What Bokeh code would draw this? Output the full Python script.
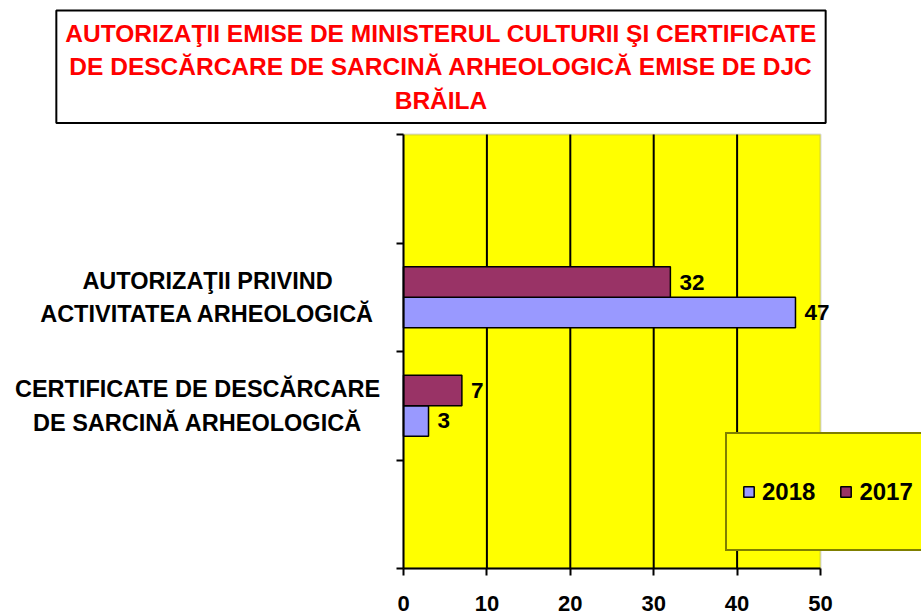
from bokeh.plotting import figure
from bokeh.models import (Range1d, FixedTicker, Label, LabelSet, ColumnDataSource,
                          Legend, LegendItem, LinearAxis, BoxAnnotation)
from bokeh.core.properties import value
from bokeh.embed import file_html
from bokeh.resources import INLINE

title_text = ("AUTORIZAŢII EMISE DE MINISTERUL CULTURII ŞI CERTIFICATE\n"
              "DE DESCĂRCARE DE SARCINĂ ARHEOLOGICĂ EMISE DE DJC\n"
              "BRĂILA")
categories = ["AUTORIZAŢII PRIVIND\nACTIVITATEA ARHEOLOGICĂ",
              "CERTIFICATE DE DESCĂRCARE\nDE SARCINĂ ARHEOLOGICĂ"]
series_names = ["2018", "2017"]
values_2018 = [47, 3]
values_2017 = [32, 7]
x_ticks = [0, 10, 20, 30, 40, 50]

FONT = "Liberation Sans"
N_SLOTS = 4  # one empty slot above, one below
centers = [N_SLOTS - 1.5 - i for i in range(len(categories))]
BAR_H = 0.28
XMAX = x_ticks[-1]

# plot-area geometry in canvas px
W, H = 921, 616
FL, FR, FT, FB = 403, 820, 134, 568
sx = (FR - FL) / XMAX
sy = (FB - FT) / N_SLOTS

def px_x(px):
    return (px - FL) / sx

def px_y(py):
    return (FB - py) / sy

p = figure(width=W, height=H,
           x_range=Range1d(px_x(0), px_x(W)), y_range=Range1d(px_y(H), px_y(0)),
           output_backend="svg", toolbar_location=None, min_border=0,
           x_axis_type=None, y_axis_type=None)
p.background_fill_color = "white"
p.border_fill_color = "white"
p.outline_line_color = None
p.grid.visible = False

# plot area background + border (gray on top/right)
p.add_layout(BoxAnnotation(left=0, right=XMAX, bottom=0, top=N_SLOTS,
                           fill_color="#FFFF00", fill_alpha=1,
                           line_color="#808080", line_width=2, level="underlay"))

# vertical grid lines
grid_x = x_ticks[1:-1]
p.segment(x0=grid_x, y0=[0] * len(grid_x), x1=grid_x, y1=[N_SLOTS] * len(grid_x),
          line_color="black", line_width=2)

src17 = ColumnDataSource(dict(y=[c + BAR_H / 2 for c in centers], v=values_2017,
                              t=[str(v) for v in values_2017]))
src18 = ColumnDataSource(dict(y=[c - BAR_H / 2 for c in centers], v=values_2018,
                              t=[str(v) for v in values_2018]))

r18 = p.hbar(y="y", right="v", left=0, height=BAR_H, source=src18,
             fill_color="#9999FF", line_color="black", line_width=1.5)
r17 = p.hbar(y="y", right="v", left=0, height=BAR_H, source=src17,
             fill_color="#993366", line_color="black", line_width=1.5)

for s in (src17, src18):
    p.add_layout(LabelSet(x="v", y="y", text="t", source=s, x_offset=9,
                          text_baseline="middle", text_align="left",
                          text_font=value(FONT), text_font_style="bold",
                          text_font_size="22.5px", text_color="black"))

# axes fixed at the plot-area edges
xaxis = LinearAxis(fixed_location=0, bounds=(0, XMAX),
                   ticker=FixedTicker(ticks=x_ticks))
xaxis.axis_line_width = 2
xaxis.major_tick_line_width = 2
xaxis.major_tick_out = 7
xaxis.major_tick_in = 0
xaxis.minor_tick_line_color = None
xaxis.major_label_standoff = 20
xaxis.major_label_text_font = FONT
xaxis.major_label_text_font_style = "bold"
xaxis.major_label_text_font_size = "22px"
xaxis.major_label_text_color = "black"
p.add_layout(xaxis, "below")

yaxis = LinearAxis(fixed_location=0, bounds=(0, N_SLOTS),
                   ticker=FixedTicker(ticks=list(range(N_SLOTS + 1))))
yaxis.axis_line_width = 2
yaxis.major_tick_line_width = 2
yaxis.major_tick_out = 7
yaxis.major_tick_in = 0
yaxis.minor_tick_line_color = None
yaxis.major_label_overrides = {i: "" for i in range(N_SLOTS + 1)}
p.add_layout(yaxis, "left")

# category labels, one centred line at a time (wrapped-text centres differ)
label_dx = [-196, -206]
line1 = [c.split("\n")[0] for c in categories]
line2 = [c.split("\n")[1] for c in categories]
for lines, off in ((line1, 16.5), (line2, -17)):
    src = ColumnDataSource(dict(x=[0] * len(lines), y=centers, t=lines, dx=label_dx))
    p.add_layout(LabelSet(x="x", y="y", text="t", source=src, x_offset="dx",
                          y_offset=off, text_align="center", text_baseline="middle",
                          text_font=value(FONT), text_font_style="bold",
                          text_font_size="23.5px", text_color="black"))

# title box
p.add_layout(Label(x=px_x(440.5), y=px_y(10), text=title_text,
                   anchor="top_center", text_align="center",
                   text_font=FONT, text_font_style="bold", text_font_size="24.5px",
                   text_line_height=1.25, text_color="#FF0000",
                   background_fill_color="white", border_line_color="black",
                   border_line_width=2, padding=9))

legend = Legend(items=[LegendItem(label=series_names[0], renderers=[r18]),
                       LegendItem(label=series_names[1], renderers=[r17])],
                orientation="horizontal", location=(725, H - 551),
                background_fill_color="#FFFF00", background_fill_alpha=1,
                border_line_color="black", border_line_width=2,
                label_text_font=FONT, label_text_font_style="bold",
                label_text_font_size="24px", label_text_color="black",
                glyph_width=13, glyph_height=13, label_standoff=7,
                spacing=24, padding=15, label_height=85)
p.add_layout(legend, "center")

open("out.html", "w").write(file_html(p, INLINE))
